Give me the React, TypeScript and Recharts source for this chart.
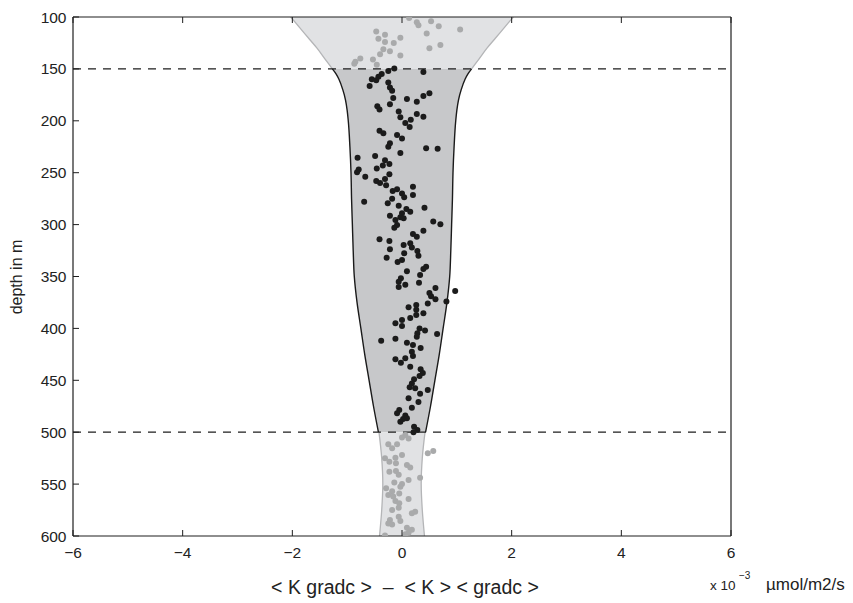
import React from 'react';
import { ComposedChart, Area, Scatter, XAxis, YAxis, ReferenceLine } from 'recharts';

// ---------- axes ----------
const xTicks = [-6, -4, -2, 0, 2, 4, 6];
const yTicks = [100, 150, 200, 250, 300, 350, 400, 450, 500, 550, 600];
const dashedDepths = [150, 500];

// ---------- envelopes (half widths, x 10^-3) ----------
const upperDepths = [100, 110, 120, 130, 140, 150];
const upperHalf = [2.03, 1.87, 1.71, 1.55, 1.41, 1.27];

const middleDepths = [150, 155, 160, 170, 180, 190, 200, 225, 250, 275, 300, 325, 350, 375, 400, 425, 450, 475, 500];
const middleHalf = [1.27, 1.2, 1.15, 1.08, 1.03, 1.0, 0.98, 0.95, 0.93, 0.92, 0.905, 0.89, 0.87, 0.82, 0.75, 0.68, 0.6, 0.52, 0.43];

const lowerDepths = [500, 525, 550, 575, 600];
const lowerHalf = [0.42, 0.37, 0.35, 0.37, 0.41];

// ---------- points ----------
const grayTopX = [0.13, 0.27, 0.3, 0.53, 0.67, 1.06, 0.45, -0.47, -0.31, -0.43, -0.31, -0.15, -0.03, 0.7, 0.5, -0.34, -0.22, -0.4, -0.03, -0.76, -0.53, -0.85, -0.87, -0.46];
const grayTopDepth = [101, 105, 108, 104, 109, 112, 116, 114, 117, 121, 124, 125, 120, 127, 130, 131, 133, 136, 137, 140, 141, 143, 145, 146];

const blackX = [
  -0.14, -0.25, 0.39, -0.37, -0.43, -0.55, -0.47, -0.25, -0.59, -0.22, -0.18, 0.5, 0.39, -0.16, 0.09, 0.27, -0.22, -0.45, -0.41, -0.06,
  0.27, 0.39, -0.03, 0.16, 0.06, 0.14, -0.41, -0.34, -0.09, 0.0, -0.22, -0.25, 0.44, 0.65, -0.03, -0.81, -0.49, -0.31, -0.23, -0.35,
  -0.46, -0.79, -0.82, -0.23, -0.67, -0.31, -0.47, -0.4, -0.29, 0.2, -0.17, -0.09, 0.0, 0.2, 0.04, -0.18, -0.69, -0.26, -0.06, 0.41,
  0.08, 0.15, 0.0, -0.22, -0.03, -0.12, 0.03, 0.57, 0.7, -0.09, -0.14, 0.39, 0.2, 0.27, -0.41, -0.23, 0.03, 0.15, 0.18, -0.22,
  0.28, 0.04, 0.3, -0.28, 0.0, -0.08, 0.44, 0.39, 0.09, 0.33, -0.02, -0.06, 0.06, -0.06, 0.31, 0.61, 0.97, 0.5, 0.53, 0.61,
  0.47, 0.81, 0.26, 0.12, 0.26, 0.39, 0.26, 0.15, 0.0, -0.12, 0.0, 0.32, 0.42, 0.28, 0.64, 0.27, -0.38, -0.12, 0.09, 0.2,
  0.34, 0.18, 0.2, 0.06, -0.12, -0.02, 0.15, 0.34, 0.38, 0.32, 0.22, 0.18, 0.14, 0.24, 0.47, 0.33, 0.12, 0.3, 0.18, -0.05,
  -0.09, 0.06, 0.02, 0.09, -0.03, 0.22, 0.28, 0.21
];
const blackDepth = [
  149.5, 152, 153, 155, 157.5, 160, 161, 163, 166.5, 168, 171, 173.5, 176, 178, 179, 181.6, 184, 186, 189, 191,
  193.5, 196, 196.6, 199, 202, 206, 209.5, 212, 213.7, 217, 221.7, 225, 226.5, 227, 231, 235.5, 234, 238, 241.6, 243,
  246, 247, 249.6, 251.5, 254, 256, 258, 260, 262, 263.5, 267.6, 266, 270, 271.5, 273.7, 275, 278, 279.5, 281.8, 283.7,
  285, 287.6, 289, 291.5, 293, 295.6, 294, 297, 299.7, 300.4, 303, 306, 309, 311.6, 314, 315.8, 319.7, 318, 322, 323.8,
  325.4, 327.7, 330, 332, 334, 336, 340.5, 342.8, 345, 348.5, 351.7, 355, 358, 360, 356, 361, 364, 366, 369, 372,
  376, 374, 377.5, 379.7, 382, 385.5, 387, 390, 392, 395, 397.7, 400, 402, 404.7, 405.4, 408, 412, 410, 413.8, 416,
  419, 422.5, 426.6, 428.8, 429.8, 433, 437, 439.4, 443, 445.9, 449, 453, 456.7, 457.7, 459.3, 463, 467.3, 471, 476.4, 478.6,
  481.8, 484, 487.3, 486.6, 490, 494.7, 497.9, 500
];

const grayBottomX = [
  0.06, 0.0, 0.12, -0.25, -0.09, -0.18, 0.57, 0.47, 0.0, -0.12, -0.31, -0.23, -0.11, 0.09, 0.15, -0.11, -0.23, -0.06, 0.33, 0.12,
  -0.14, 0.0, -0.03, -0.29, -0.18, -0.05, -0.25, -0.16, 0.12, -0.12, -0.05, -0.06, -0.18, 0.24, 0.18, -0.06, -0.22, -0.03, -0.25, -0.18,
  0.09, 0.18, 0.12, 0.06, -0.31
];
const grayBottomDepth = [
  502.7, 505, 506, 511.7, 511.7, 515.5, 518, 520.3, 522, 524.5, 525, 528.4, 530, 531.6, 534, 537.4, 538, 541, 543.8, 546,
  548.5, 550, 552.5, 554, 557, 559, 560.5, 562, 564.4, 566.3, 568.5, 572.7, 575, 576.6, 578, 581.4, 584.6, 585.5, 588, 589,
  592, 594, 596.8, 598.4, 599.6
];

// ---------- build library data ----------
const band = (depths: number[], half: number[]) => depths.map((d, i) => ({ depth: d, band: [-half[i], half[i]] }));
const pts = (xs: number[], ds: number[]) => xs.map((x, i) => ({ x, depth: ds[i] }));

const upperData = band(upperDepths, upperHalf);
const middleData = band(middleDepths, middleHalf);
const lowerData = band(lowerDepths, lowerHalf);
const grayTop = pts(grayTopX, grayTopDepth);
const black = pts(blackX, blackDepth);
const grayBottom = pts(grayBottomX, grayBottomDepth);

const FONT = '"Liberation Sans", Arial, Helvetica, sans-serif';
const AXIS = '#1e1e1e';
const TICKLEN = 6;

const fmt = (v: number) => (v < 0 ? `\u2212${Math.abs(v)}` : String(v));

const BottomTick = (p: any) => (
  <g>
    <line x1={p.x} x2={p.x} y1={p.y} y2={p.y - TICKLEN} stroke={AXIS} strokeWidth={1} />
    <text x={p.x} y={p.y + 21.5} textAnchor="middle" fontSize={15.5} fontFamily={FONT} fill="#222">
      {fmt(p.payload.value)}
    </text>
  </g>
);
const TopTick = (p: any) => (
  <line x1={p.x} x2={p.x} y1={p.y} y2={p.y + TICKLEN} stroke={AXIS} strokeWidth={1} />
);
const LeftTick = (p: any) => (
  <g>
    <line x1={p.x} x2={p.x + TICKLEN} y1={p.y} y2={p.y} stroke={AXIS} strokeWidth={1} />
    <text x={p.x - 6.5} y={p.y + 5.5} textAnchor="end" fontSize={15.5} fontFamily={FONT} fill="#222">
      {p.payload.value}
    </text>
  </g>
);
const RightTick = (p: any) => (
  <line x1={p.x} x2={p.x - TICKLEN} y1={p.y} y2={p.y} stroke={AXIS} strokeWidth={1} />
);

const dot = (color: string) => (p: any) => <circle cx={p.cx} cy={p.cy} r={3} fill={color} />;

export default function App() {
  return (
    <div style={{ position: 'relative', width: 845, height: 595 }}>
      <ComposedChart
        width={845}
        height={595}
        layout="vertical"
        margin={{ top: 8, right: 121, bottom: 37, left: 0 }}
      >
        <XAxis
          xAxisId={0}
          type="number"
          dataKey="x"
          domain={[-6, 6]}
          ticks={xTicks}
          allowDataOverflow
          orientation="bottom"
          height={30}
          tickSize={0}
          tickMargin={0}
          tick={BottomTick}
          axisLine={{ stroke: AXIS, strokeWidth: 1.2 }}
          interval={0}
        />
        <XAxis
          xAxisId="top"
          type="number"
          domain={[-6, 6]}
          ticks={xTicks}
          allowDataOverflow
          orientation="top"
          height={1}
          tickSize={0}
          tickMargin={0}
          tick={TopTick}
          axisLine={{ stroke: AXIS, strokeWidth: 1.2 }}
          interval={0}
        />
        <YAxis
          yAxisId={0}
          type="number"
          dataKey="depth"
          domain={[100, 600]}
          ticks={yTicks}
          allowDataOverflow
          width={65}
          tickSize={0}
          tickMargin={0}
          tick={LeftTick}
          axisLine={{ stroke: AXIS, strokeWidth: 1.2 }}
          interval={0}
        />
        <YAxis
          yAxisId="right"
          type="number"
          domain={[100, 600]}
          ticks={yTicks}
          allowDataOverflow
          orientation="right"
          width={1}
          tickSize={0}
          tickMargin={0}
          tick={RightTick}
          axisLine={{ stroke: AXIS, strokeWidth: 1.2 }}
          interval={0}
        />
        <Area
          data={upperData}
          dataKey="band"
          type="monotone"
          fill="#e1e2e4"
          fillOpacity={1}
          stroke="#b4b5b7"
          strokeWidth={1.3}
          isAnimationActive={false}
          activeDot={false}
          dot={false}
        />
        <Area
          data={middleData}
          dataKey="band"
          type="monotone"
          fill="#c7c8ca"
          fillOpacity={1}
          stroke="#1a1a1a"
          strokeWidth={1.4}
          isAnimationActive={false}
          activeDot={false}
          dot={false}
        />
        <Area
          data={lowerData}
          dataKey="band"
          type="monotone"
          fill="#e1e2e4"
          fillOpacity={1}
          stroke="#b4b5b7"
          strokeWidth={1.3}
          isAnimationActive={false}
          activeDot={false}
          dot={false}
        />
        {dashedDepths.map((d) => (
          <ReferenceLine key={d} y={d} stroke={AXIS} strokeWidth={1.2} strokeDasharray="8 7" />
        ))}
        <Scatter data={grayTop} dataKey="x" shape={dot('#a9aaab')} isAnimationActive={false} />
        <Scatter data={grayBottom} dataKey="x" shape={dot('#a9aaab')} isAnimationActive={false} />
        <Scatter data={black} dataKey="x" shape={dot('#1b1b1b')} isAnimationActive={false} />
      </ComposedChart>
      <svg
        width={845}
        height={595}
        style={{ position: 'absolute', left: 0, top: 0, pointerEvents: 'none', overflow: 'visible' }}
      >
        <text
          x={0}
          y={0}
          transform="translate(14,269) rotate(-90)"
          textAnchor="middle"
          fontSize={16}
          fontFamily={FONT}
          fill="#222"
        >
          depth in m
        </text>
        <text x={397} y={586} textAnchor="middle" fontSize={19.5} fontFamily={FONT} fill="#222" xmlSpace="preserve">
          {'< K gradc >  \u2013  < K > < gradc >'}
        </text>
        <text x={702} y={582} fontSize={13.5} fontFamily={FONT} fill="#222">x 10</text>
        <text x={731} y={571} fontSize={10} fontFamily={FONT} fill="#222">{'\u22123'}</text>
        <text x={758} y={582} fontSize={17} fontFamily={FONT} fill="#222">µmol/m2/s</text>
      </svg>
    </div>
  );
}
